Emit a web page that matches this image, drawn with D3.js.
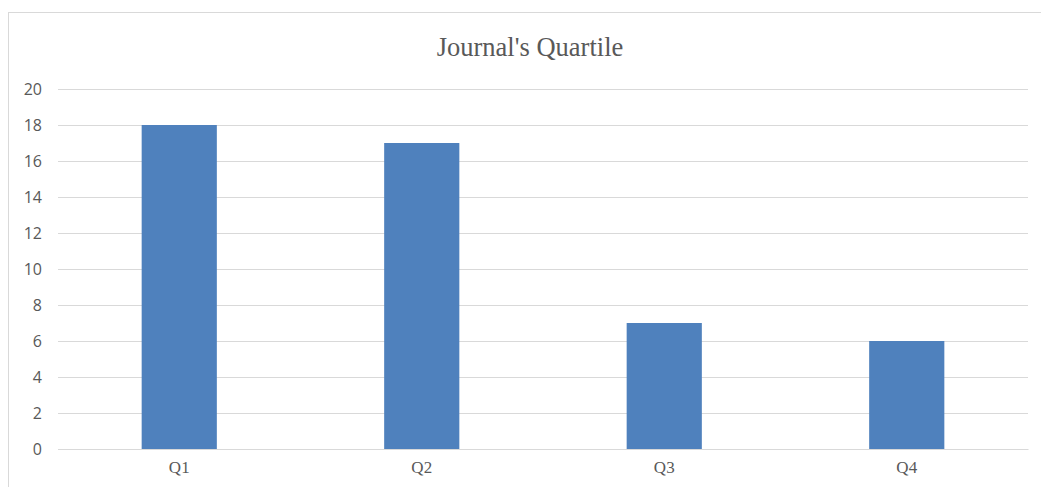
<!DOCTYPE html>
<html><head><meta charset="utf-8">
<script src="https://cdn.jsdelivr.net/npm/d3@7"></script>
<style>html,body{margin:0;padding:0;background:#fff;}</style>
</head><body>
<svg id="chart" width="1041" height="487"></svg>
<script>
const categories = ["Q1", "Q2", "Q3", "Q4"];
const values = [18, 17, 7, 6];
const yTicks = [0, 2, 4, 6, 8, 10, 12, 14, 16, 18, 20];
const title = "Journal's Quartile";

const svg = d3.select("#chart");
const W = 1041, H = 487;
const m = {left: 58, right: 13, top: 89, bottom: 38};

svg.append("rect").attr("x", 8.5).attr("y", 12.5).attr("width", 1060).attr("height", 500)
  .attr("fill", "#fff").attr("stroke", "#d9d9d9").attr("stroke-width", 1);

const x = d3.scaleBand().domain(categories).range([m.left, W - m.right]).paddingInner(0.69).paddingOuter(0.345);
const y = d3.scaleLinear().domain([0, 20]).range([H - m.bottom, m.top]);

const gy = svg.append("g").attr("transform", `translate(${m.left},0)`)
  .call(d3.axisLeft(y).tickValues(yTicks).tickSize(-(W - m.right - m.left)).tickPadding(16));
gy.select(".domain").remove();
gy.selectAll(".tick line").attr("stroke", "#d9d9d9").attr("stroke-width", 1.2);
gy.selectAll(".tick text").attr("fill", "#595959").style("font-family", "'Open Sans', sans-serif").style("font-size", "16px");

svg.append("g").selectAll("rect").data(values).join("rect")
  .attr("x", (d, i) => x(categories[i]))
  .attr("width", x.bandwidth())
  .attr("y", d => y(d))
  .attr("height", d => y(0) - y(d))
  .attr("fill", "#4f81bd");

const gx = svg.append("g").attr("transform", `translate(0,${y(0)})`)
  .call(d3.axisBottom(x).tickSize(0).tickPadding(12));
gx.select(".domain").attr("stroke", "#d9d9d9").attr("stroke-width", 1.2);
gx.selectAll(".tick text").attr("fill", "#595959").style("font-family", "'Liberation Serif', 'Times New Roman', serif").style("font-size", "17px");

svg.append("text").attr("x", 530).attr("y", 56).attr("text-anchor", "middle")
  .attr("fill", "#595959").style("font-family", "'Liberation Serif', 'Times New Roman', serif")
  .style("font-size", "26.5px").text(title);
</script>
</body></html>
